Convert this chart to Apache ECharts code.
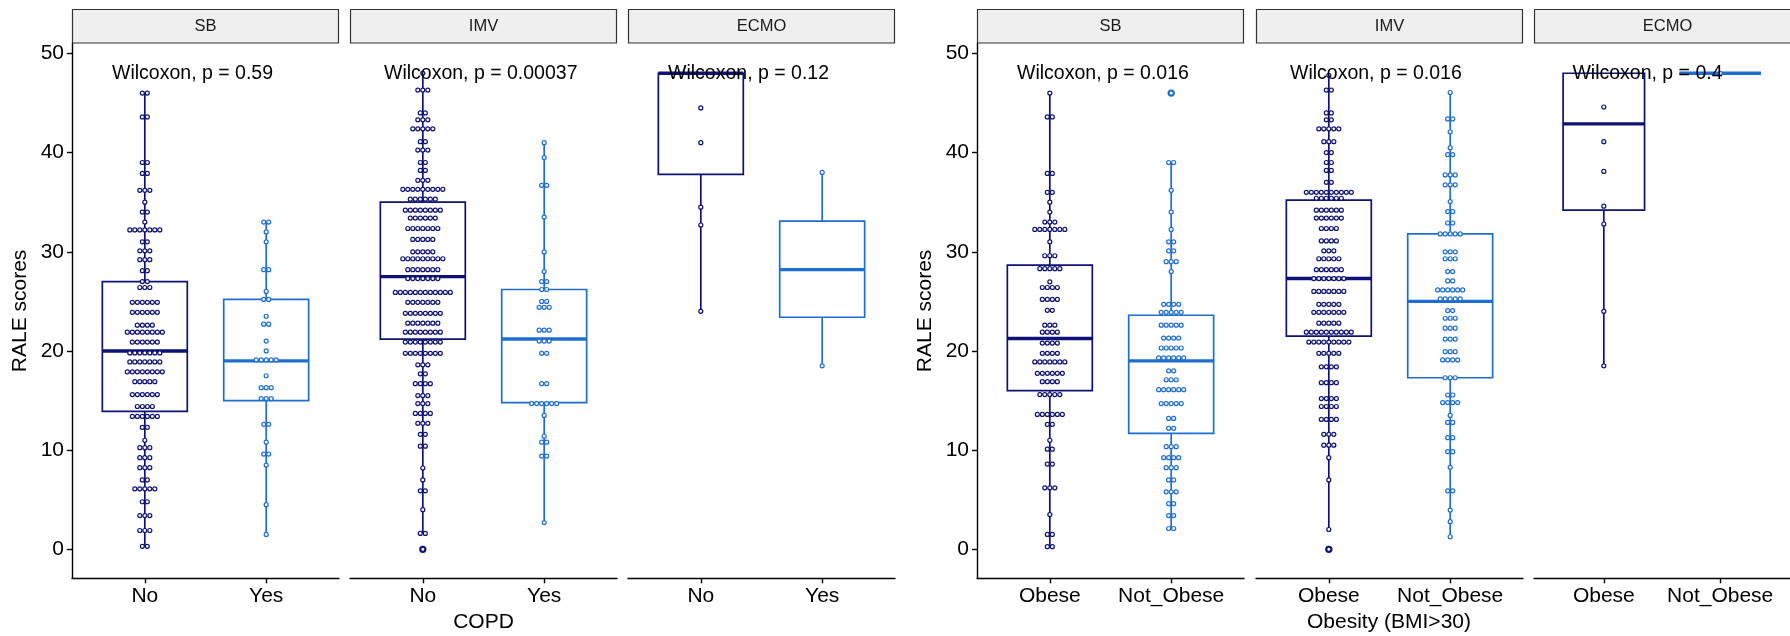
<!DOCTYPE html>
<html><head><meta charset="utf-8">
<script src="https://cdn.jsdelivr.net/npm/echarts@6/dist/echarts.min.js"></script>
<style>html,body{margin:0;padding:0;background:#fff}#c{width:1790px;height:636px}</style>
</head><body><div id="c"></div>
<script>
// ---------------- DATA ----------------
const facetNames = ['SB', 'IMV', 'ECMO'];
const copdCats = ['No', 'Yes'];
const obesityCats = ['Obese', 'Not_Obese'];
const yTicks = [0, 10, 20, 30, 40, 50];
const copdTitle = 'COPD';
const obesityTitle = 'Obesity (BMI>30)';
const yTitle = 'RALE scores';

// dot rows: [value, number of stacked dots]
const copdSB_No = [[46.0,2],[43.6,2],[39.0,2],[37.9,2],[36.2,3],[35.0,1],[34.0,2],[33.0,1],[32.2,7],[31.0,2],[30.1,3],[29.2,3],[28.1,2],[27.0,2],[26.4,3],[24.9,6],[23.9,6],[22.6,4],[21.9,8],[20.9,6],[19.8,7],[18.9,7],[17.9,8],[16.9,5],[15.6,6],[14.4,4],[13.4,6],[12.3,2],[11.0,1],[10.25,3],[9.24,3],[8.23,3],[7.0,2],[6.1,5],[4.8,2],[3.4,3],[1.9,3],[0.3,2]];
const copdSB_Yes = [[33.0,2],[32.0,1],[31.0,1],[28.2,2],[26.0,1],[25.2,2],[23.5,1],[22.7,2],[21.0,1],[20.0,1],[19.1,5],[17.5,1],[16.3,3],[15.2,3],[12.6,2],[10.8,1],[9.6,2],[8.5,1],[4.5,1],[1.5,1]];
const copdIMV_No = [[48.0,1],[46.3,3],[44.0,2],[43.3,3],[42.4,5],[41.1,2],[40.25,3],[39.0,2],[38.2,2],[37.2,3],[36.3,9],[35.3,6],[34.2,8],[33.4,6],[32.35,7],[31.25,5],[30.0,5],[29.3,9],[28.2,7],[27.3,7],[25.9,12],[24.9,7],[23.8,8],[22.8,7],[21.9,8],[20.9,8],[19.76,8],[18.6,3],[17.7,2],[16.7,4],[15.5,3],[14.7,3],[13.7,4],[12.7,3],[11.6,2],[10.4,2],[8.2,1],[7.0,1],[5.9,2],[4.0,1],[1.6,2]];
const copdIMV_Yes = [[41.0,1],[39.5,1],[36.7,2],[33.5,1],[30.0,1],[28.0,1],[27.0,2],[26.2,2],[25.0,2],[24.4,3],[22.1,3],[21.0,3],[19.76,2],[16.7,2],[14.7,6],[13.5,1],[11.4,1],[10.8,2],[9.4,2],[2.7,1]];
const copdECMO_No = [[44.5,1],[41.0,1],[34.5,1],[32.7,1],[24.0,1]];
const copdECMO_Yes = [[38.0,1],[18.5,1]];

const obSB_Obese = [[46.0,1],[43.6,2],[37.9,2],[36.0,2],[35.0,1],[34.0,1],[33.0,3],[32.25,7],[31.0,1],[29.6,3],[28.3,5],[26.97,1],[26.4,4],[25.2,4],[24.1,2],[22.6,3],[21.9,4],[20.8,4],[19.76,4],[18.9,7],[17.75,6],[16.9,4],[15.6,5],[13.6,6],[12.6,2],[11.0,1],[10.1,2],[8.6,2],[6.2,3],[3.5,1],[1.5,2],[0.27,2]];
const obSB_NotObese = [[39.0,2],[36.2,1],[34.0,1],[32.25,1],[31.0,2],[30.1,2],[29.0,3],[28.0,1],[24.7,4],[23.9,5],[22.6,5],[21.3,4],[20.3,5],[19.3,6],[18.0,2],[17.1,3],[16.1,6],[14.7,5],[13.2,2],[12.2,2],[10.35,3],[9.24,4],[8.23,3],[7.0,2],[5.8,3],[4.6,2],[3.4,2],[2.1,2]];
const obIMV_Obese = [[47.8,1],[46.3,2],[44.0,2],[43.3,2],[42.4,5],[41.1,3],[40.0,2],[39.0,2],[38.2,2],[37.0,2],[36.0,10],[35.4,6],[34.2,6],[33.4,6],[32.35,4],[31.1,4],[30.1,3],[29.3,5],[28.2,6],[27.3,7],[26.0,7],[24.7,5],[23.9,7],[22.8,5],[21.9,10],[20.9,9],[19.76,5],[18.4,4],[16.8,4],[15.2,4],[14.4,4],[13.1,4],[11.6,3],[10.5,3],[9.24,1],[7.0,1],[2.0,1]];
const obIMV_NotObese = [[46.06,1],[43.4,2],[42.1,1],[40.5,1],[39.8,2],[37.75,3],[36.75,3],[35.06,1],[34.05,2],[32.9,2],[31.8,5],[30.0,3],[29.3,3],[28.0,2],[27.06,2],[26.15,6],[25.25,5],[24.07,2],[23.3,3],[22.3,3],[21.2,3],[19.93,3],[19.1,4],[17.3,3],[15.56,2],[14.8,4],[13.5,1],[12.8,2],[11.26,2],[9.85,2],[8.27,1],[5.9,2],[3.96,1],[2.79,1],[1.27,1]];
const obECMO_Obese = [[44.6,1],[41.1,1],[38.1,1],[34.6,1],[32.8,1],[24.0,1],[18.5,1]];
const obECMO_NotObese = [[48.0,1]];

// box stats: [lower whisker, Q1, median, Q3, upper whisker] per category
const copdBoxSB = [[0.3,13.9,20.0,27.0,46.0],[1.5,15.0,19.0,25.2,33.0]];
const copdBoxIMV = [[1.6,21.2,27.5,35.0,48.0],[2.7,14.8,21.2,26.2,41.0]];
const copdBoxECMO = [[24.0,37.8,48.0,48.0,48.0],[18.5,23.4,28.2,33.1,38.0]];
const obBoxSB = [[0.27,16.0,21.25,28.65,46.0],[2.1,11.7,19.0,23.6,39.0]];
const obBoxIMV = [[2.0,21.5,27.3,35.2,48.0],[1.27,17.3,25.0,31.8,46.06]];
const obBoxECMO = [[18.5,34.2,42.9,48.0,48.0],[48.0,48.0,48.0,48.0,48.0]];

// outliers: [category (1-based), value]
const copdOutSB = [];
const copdOutIMV = [[1,0]];
const copdOutECMO = [];
const obOutSB = [[2,46.0]];
const obOutIMV = [[1,0]];
const obOutECMO = [];

const copdPvals = ['Wilcoxon, p = 0.59', 'Wilcoxon, p = 0.00037', 'Wilcoxon, p = 0.12'];
const obPvals = ['Wilcoxon, p = 0.016', 'Wilcoxon, p = 0.016', 'Wilcoxon, p = 0.4'];
const pvalY = 48;

// ---------------- LAYOUT / STYLE ----------------
const FONT = '"Liberation Sans", Arial, Helvetica, sans-serif';
const COLORS = ['#0E1175', '#1E6ED2'];
const FACET_W = 267, PANEL_TOP = 43.5, PANEL_H = 534.8;
const STRIP_TOP = 9;
const YMIN = -2.92, YMAX = 51.0;
const labelXs = [0.73, 0.68, 0.73];

const panels = [
  { cats: copdCats, title: copdTitle, lefts: [72, 350, 628],
    dots: [[copdSB_No, copdSB_Yes], [copdIMV_No, copdIMV_Yes], [copdECMO_No, copdECMO_Yes]],
    boxes: [copdBoxSB, copdBoxIMV, copdBoxECMO],
    outs: [copdOutSB, copdOutIMV, copdOutECMO], pvals: copdPvals },
  { cats: obesityCats, title: obesityTitle, lefts: [977, 1256, 1534],
    dots: [[obSB_Obese, obSB_NotObese], [obIMV_Obese, obIMV_NotObese], [obECMO_Obese, obECMO_NotObese]],
    boxes: [obBoxSB, obBoxIMV, obBoxECMO],
    outs: [obOutSB, obOutIMV, obOutECMO], pvals: obPvals }
];

const grids = [], xAxes = [], yAxes = [], series = [], graphics = [];
const AXIS_W = 1.4;

function renderBox(params, api) {
  const x = api.value(0);
  const color = COLORS[x - 1];
  const w = api.size([0.7, 0])[0];
  const pL = api.coord([x, api.value(1)]), p1 = api.coord([x, api.value(2)]),
        pM = api.coord([x, api.value(3)]), p3 = api.coord([x, api.value(4)]),
        pH = api.coord([x, api.value(5)]);
  const cx = p1[0];
  const st = { stroke: color, lineWidth: 1.7, fill: null };
  return { type: 'group', children: [
    { type: 'line', shape: { x1: cx, y1: pL[1], x2: cx, y2: p1[1] }, style: st },
    { type: 'line', shape: { x1: cx, y1: p3[1], x2: cx, y2: pH[1] }, style: st },
    { type: 'rect', shape: { x: cx - w / 2, y: p3[1], width: w, height: p1[1] - p3[1] }, style: st },
    { type: 'line', shape: { x1: cx - w / 2, y1: pM[1], x2: cx + w / 2, y2: pM[1] }, style: { stroke: color, lineWidth: 3.4 } }
  ]};
}
function renderDots(params, api) {
  const x = api.value(0), v = api.value(1), n = api.value(2);
  const p = api.coord([x, v]);
  const color = COLORS[x - 1];
  const d = 5.0;
  const children = [];
  for (let i = 0; i < n; i++) {
    children.push({ type: 'circle', shape: { cx: p[0] + (i - (n - 1) / 2) * d, cy: p[1], r: 2.0 },
      style: { fill: '#fff', stroke: color, lineWidth: 1.2 } });
  }
  return { type: 'group', children };
}
function renderOut(params, api) {
  const x = api.value(0);
  const p = api.coord([x, api.value(1)]);
  return { type: 'circle', shape: { cx: p[0], cy: p[1], r: 2.6 },
    style: { fill: '#fff', stroke: COLORS[x - 1], lineWidth: 2.2 } };
}

let gi = 0;
panels.forEach((P, pi) => {
  P.lefts.forEach((left, f) => {
    grids.push({ left: left, top: PANEL_TOP, width: FACET_W, height: PANEL_H, containLabel: false });
    xAxes.push({
      gridIndex: gi, type: 'value', min: 0.4, max: 2.6,
      axisLine: { show: true, onZero: false, lineStyle: { color: '#000', width: AXIS_W } },
      axisTick: { show: true, customValues: [1, 2], length: 5, lineStyle: { color: '#000', width: AXIS_W } },
      axisLabel: { show: true, customValues: [1, 2], margin: 7, color: '#000', fontSize: 21, fontFamily: FONT,
        formatter: (v) => P.cats[Math.round(v) - 1] },
      splitLine: { show: false }
    });
    const first = f === 0;
    yAxes.push({
      gridIndex: gi, type: 'value', min: YMIN, max: YMAX, show: first,
      axisLine: { show: first, onZero: false, lineStyle: { color: '#000', width: AXIS_W } },
      axisTick: { show: first, customValues: yTicks, length: 5, lineStyle: { color: '#000', width: AXIS_W } },
      axisLabel: { show: first, customValues: yTicks, margin: 8, color: '#000', fontSize: 21, fontFamily: FONT },
      splitLine: { show: false }
    });
    series.push({ type: 'custom', xAxisIndex: gi, yAxisIndex: gi, silent: true, z: 2,
      data: P.boxes[f].map((s, i) => [i + 1].concat(s)), renderItem: renderBox, clip: false });
    series.push({ type: 'custom', xAxisIndex: gi, yAxisIndex: gi, silent: true, z: 3,
      data: P.outs[f], renderItem: renderOut, clip: false });
    const dotData = [];
    P.dots[f].forEach((rows, ci) => rows.forEach(r => dotData.push([ci + 1, r[0], r[1]])));
    series.push({ type: 'custom', xAxisIndex: gi, yAxisIndex: gi, silent: true, z: 4,
      data: dotData, renderItem: renderDots, clip: false });
    const txt = P.pvals[f];
    series.push({ type: 'custom', xAxisIndex: gi, yAxisIndex: gi, silent: true, z: 5, clip: false,
      data: [[labelXs[f], pvalY]],
      renderItem: (params, api) => {
        const p = api.coord([api.value(0), api.value(1)]);
        return { type: 'text', x: p[0], y: p[1], style: { text: txt, fontSize: 19.5, fontFamily: FONT, fill: '#000', align: 'left', verticalAlign: 'middle' } };
      } });
    graphics.push({ type: 'rect', shape: { x: left + 0.5, y: STRIP_TOP + 0.5, width: FACET_W - 1, height: PANEL_TOP - STRIP_TOP - 1 },
      style: { fill: '#EFEFEF', stroke: '#333', lineWidth: 1.2 }, z: 10 });
    graphics.push({ type: 'text', x: left + FACET_W / 2, y: (STRIP_TOP + PANEL_TOP) / 2,
      style: { text: facetNames[f], fontSize: 16.5, fontFamily: FONT, fill: '#1A1A1A', align: 'center', verticalAlign: 'middle' }, z: 11 });
    gi++;
  });
  const l0 = P.lefts[0], r = P.lefts[2] + FACET_W;
  graphics.push({ type: 'text', x: (l0 + r) / 2, y: 622,
    style: { text: P.title, fontSize: 21, fontFamily: FONT, fill: '#000', align: 'center', verticalAlign: 'middle' } });
  graphics.push({ type: 'text', x: l0 - 51.5, y: PANEL_TOP + PANEL_H / 2, rotation: Math.PI / 2,
    style: { text: yTitle, fontSize: 21, fontFamily: FONT, fill: '#000', align: 'center', verticalAlign: 'middle' } });
});

const chart = echarts.init(document.getElementById('c'), null, { renderer: 'canvas' });
chart.setOption({
  animation: false,
  backgroundColor: '#fff',
  grid: grids, xAxis: xAxes, yAxis: yAxes, series: series, graphic: graphics
});
</script></body></html>
